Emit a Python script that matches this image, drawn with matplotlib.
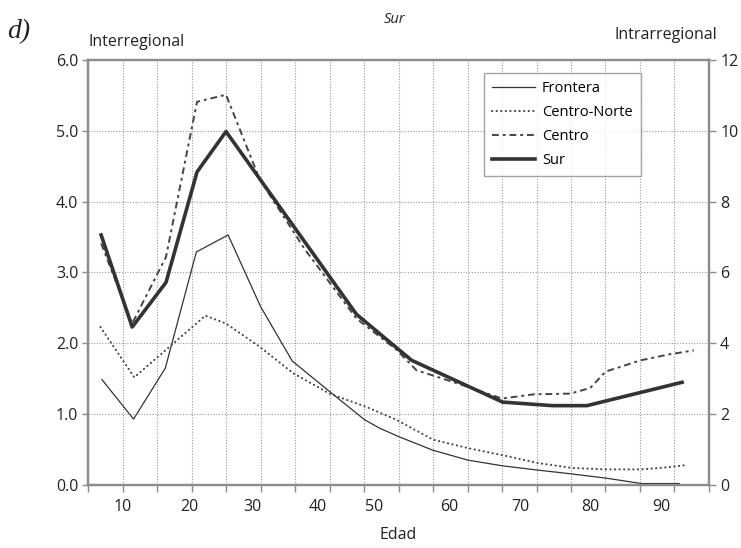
import matplotlib
matplotlib.use("Agg")
import matplotlib.pyplot as plt

plt.rcParams['font.family'] = ['Open Sans', 'DejaVu Sans']

# Migration rates by age, Sur region
frontera_age = [7.0, 11.6, 16.2, 20.7, 25.3, 30.0, 34.6, 40.0, 45.1, 47.3, 50.1,
                55.0, 60.1, 65.1, 70.2, 75.2, 80.2, 85.2, 90.7]
frontera_val = [1.49, 0.93, 1.65, 3.29, 3.53, 2.52, 1.75, 1.32, 0.92, 0.80, 0.68,
                0.49, 0.35, 0.27, 0.21, 0.155, 0.095, 0.02, 0.02]

cnorte_age = [6.8, 11.7, 22.0, 25.0, 29.9, 34.7, 40.0, 45.4, 49.7, 55.0, 60.1,
              65.1, 70.2, 75.2, 80.2, 85.2, 89.0, 91.6]
cnorte_val = [2.23, 1.52, 2.39, 2.28, 1.95, 1.58, 1.29, 1.10, 0.92, 0.64, 0.52,
              0.42, 0.31, 0.24, 0.22, 0.22, 0.25, 0.28]

centro_age = [6.9, 11.4, 16.3, 20.8, 25.0, 29.9, 36.4, 43.9, 49.7, 52.6, 55.5,
              59.9, 65.0, 69.6, 74.9, 77.8, 80.0, 85.1, 89.0, 92.8]
centro_val = [3.41, 2.28, 3.22, 5.41, 5.51, 4.31, 3.33, 2.35, 1.91, 1.62, 1.53,
              1.39, 1.22, 1.28, 1.29, 1.37, 1.60, 1.76, 1.84, 1.90]

sur_age = [6.9, 11.4, 16.3, 20.8, 25.0, 43.9, 51.9, 65.1, 72.3, 77.3, 91.1]
sur_val = [3.53, 2.23, 2.86, 4.42, 4.99, 2.41, 1.76, 1.17, 1.12, 1.12, 1.45]

# Axis labelling
xtick_grid = list(range(5, 96, 5))
xlabel_pos = [10.06, 19.65, 28.87, 38.26, 46.5, 57.3, 67.6, 77.8, 88.1]
xlabel_txt = ['10', '20', '30', '40', '50', '60', '70', '80', '90']
yleft_ticks = [0, 1, 2, 3, 4, 5, 6]
yright_ticks = [0, 2, 4, 6, 8, 10, 12]

spine_col = '#8c8c8c'
grid_col = '#9a9a9a'
text_col = '#222222'

fig = plt.figure(figsize=(7.41, 5.48), dpi=100)
ax = fig.add_axes([0.1188, 0.115, 0.8380, 0.7755])

ax.plot(frontera_age, frontera_val, color='#333333', lw=0.9, label='Frontera')
ax.plot(cnorte_age, cnorte_val, color='#444444', lw=1.5,
        linestyle=(0, (0.1, 2.1)), dash_capstyle='round', label='Centro-Norte')
ax.plot(centro_age, centro_val, color='#444444', lw=1.4,
        linestyle=(0, (3.5, 2, 1.5, 2)), label='Centro')
ax.plot(sur_age, sur_val, color='#333333', lw=2.6, label='Sur')

ax.set_xlim(5, 95)
ax.set_ylim(0, 6)

ax.set_xticks(xtick_grid)
ax.set_xticklabels([])
ax.set_xticks(xlabel_pos, minor=True)
ax.set_xticklabels(xlabel_txt, minor=True)
ax.tick_params(axis='x', which='major', direction='out', length=5, width=1,
               color=spine_col)
ax.tick_params(axis='x', which='minor', length=0, pad=10, labelsize=11.5,
               labelcolor=text_col)

ax.set_yticks(yleft_ticks)
ax.set_yticklabels([f'{v:.1f}' for v in yleft_ticks])
ax.tick_params(axis='y', direction='out', length=4, width=1, color=spine_col,
               pad=3, labelsize=11.5, labelcolor=text_col)

ax.grid(True, which='major', color=grid_col, lw=0.8, linestyle=(0, (1, 1.5)))
ax.set_axisbelow(True)

for s in ax.spines.values():
    s.set_color(spine_col)
    s.set_linewidth(1.6)

ax2 = ax.twinx()
ax2.set_ylim(0, 12)
ax2.set_yticks(yright_ticks)
ax2.tick_params(axis='y', direction='out', length=5, width=1, color=spine_col,
                pad=3, labelsize=11.5, labelcolor=text_col)
for s in ax2.spines.values():
    s.set_color(spine_col)
    s.set_linewidth(1.6)

leg = ax.legend(loc='upper left', bbox_to_anchor=(0.637, 0.969), frameon=True,
                fancybox=False, edgecolor='#8c8c8c', fontsize=10.5,
                handlelength=3.0, handletextpad=0.45, labelspacing=0.62,
                borderpad=0.55, borderaxespad=0)
leg.get_frame().set_linewidth(1.0)
leg.set_zorder(10)

ax.set_xlabel('Edad', fontsize=11.5, labelpad=9, color=text_col)

fig.text(0.1188, 0.923, 'Interregional', ha='left', va='center', fontsize=11.5,
         color=text_col)
fig.text(0.968, 0.936, 'Intrarregional', ha='right', va='center', fontsize=11.5,
         color=text_col)
fig.text(0.533, 0.965, 'Sur', ha='center', va='center', fontsize=10.5,
         style='italic', color=text_col)
fig.text(0.010, 0.942, 'd)', ha='left', va='center', fontsize=20,
         style='italic', family='Liberation Serif', color=text_col)

fig.savefig('out.png', dpi=100)
